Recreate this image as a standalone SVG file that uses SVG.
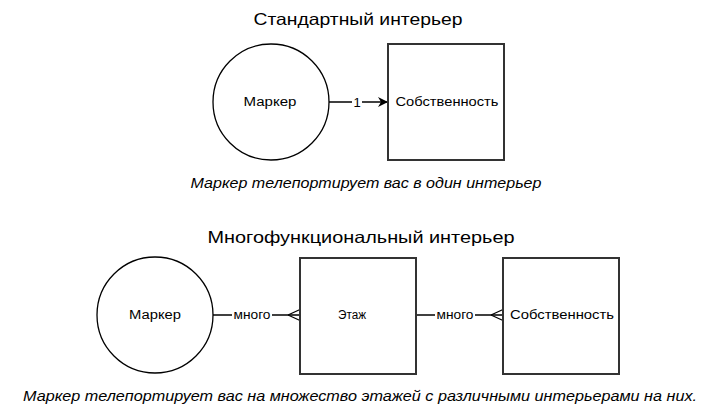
<svg xmlns="http://www.w3.org/2000/svg" width="720" height="411" viewBox="0 0 720 411">
<defs>
<marker id="arrow" markerWidth="10" markerHeight="10" refX="9" refY="5" orient="auto" markerUnits="userSpaceOnUse">
<path d="M0,0 L10,5 L0,10 L3,5 Z" fill="#000"/>
</marker>
</defs>
<style>
text{font-family:"Liberation Sans",Arial,sans-serif;fill:#000}
.title{font-size:16.5px;text-anchor:middle}
.lbl{font-size:12.5px;text-anchor:middle}
.cap{font-size:14px;font-style:italic;text-anchor:middle}
.shape{fill:#fff;stroke:#000;stroke-width:1.3}
.box{fill:#fff;stroke:#333;stroke-width:2}
.edge{fill:none;stroke:#000;stroke-width:1.3}
.elbl{font-size:12.5px;text-anchor:middle}
</style>
<rect width="720" height="411" fill="#fff"/>
<text class="title" x="358" y="25" textLength="209" lengthAdjust="spacingAndGlyphs">Стандартный интерьер</text>
<text class="title" x="361" y="243" textLength="307" lengthAdjust="spacingAndGlyphs">Многофункциональный интерьер</text>
<g id="connectors">
<line class="edge" x1="329" y1="102" x2="387" y2="102" marker-end="url(#arrow)"/>
<rect x="352" y="95" width="10" height="14" fill="#fff"/>
<text class="elbl" x="357" y="107" style="font-size:13px">1</text>
<line class="edge" x1="213" y1="315" x2="300" y2="315"/>
<path class="edge" d="M288,315 L300,309.5 M288,315 L300,320.5"/>
<rect x="232" y="307" width="40" height="14" fill="#fff"/>
<text class="elbl" x="252" y="319" textLength="37" lengthAdjust="spacingAndGlyphs">много</text>
<line class="edge" x1="416" y1="315" x2="503" y2="315"/>
<path class="edge" d="M491,315 L503,309.5 M491,315 L503,320.5"/>
<rect x="435" y="307" width="40" height="14" fill="#fff"/>
<text class="elbl" x="455" y="319" textLength="37" lengthAdjust="spacingAndGlyphs">много</text>
</g>
<g id="marker1">
<circle class="shape" cx="271" cy="102" r="58"/>
<text class="lbl" x="270" y="106" textLength="53" lengthAdjust="spacingAndGlyphs">Маркер</text>
</g>
<g id="property1">
<rect class="box" x="388" y="44" width="116" height="116"/>
<text class="lbl" x="447" y="106" textLength="103" lengthAdjust="spacingAndGlyphs">Собственность</text>
</g>
<g id="marker2">
<circle class="shape" cx="155" cy="315" r="58"/>
<text class="lbl" x="155" y="319" textLength="52" lengthAdjust="spacingAndGlyphs">Маркер</text>
</g>
<g id="floor">
<rect class="box" x="300" y="258" width="116" height="116"/>
<text class="lbl" x="352" y="319" textLength="28" lengthAdjust="spacingAndGlyphs">Этаж</text>
</g>
<g id="property2">
<rect class="box" x="503" y="258" width="116" height="116"/>
<text class="lbl" x="562" y="319" textLength="104" lengthAdjust="spacingAndGlyphs">Собственность</text>
</g>
<text class="cap" x="366" y="188" textLength="351" lengthAdjust="spacingAndGlyphs">Маркер телепортирует вас в один интерьер</text>
<text class="cap" x="360" y="401" textLength="674" lengthAdjust="spacingAndGlyphs">Маркер телепортирует вас на множество этажей с различными интерьерами на них.</text>
</svg>
